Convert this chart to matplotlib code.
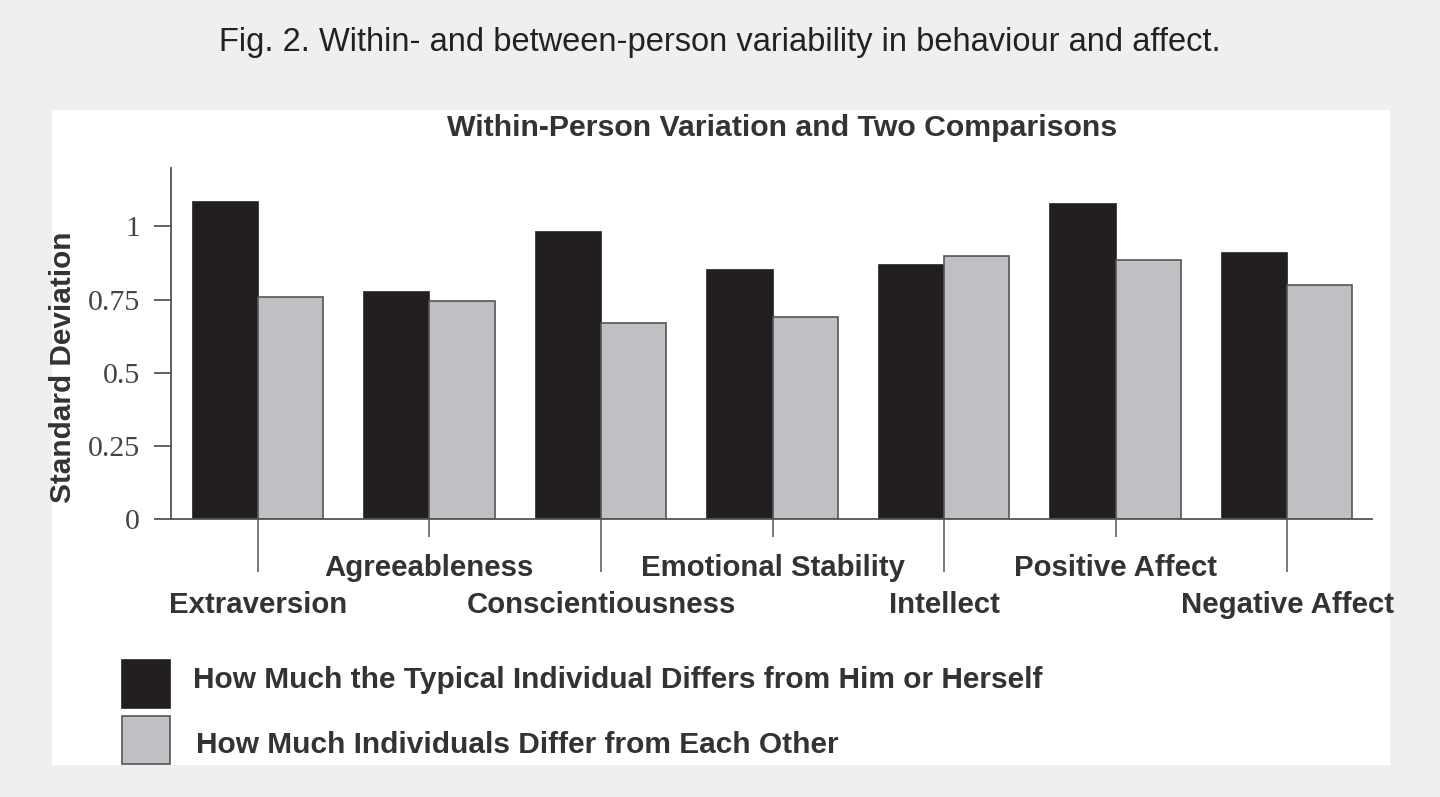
import matplotlib
matplotlib.use("Agg")
import matplotlib.pyplot as plt
from matplotlib import patches

# data
categories = ["Extraversion", "Agreeableness", "Conscientiousness", "Emotional Stability",
              "Intellect", "Positive Affect", "Negative Affect"]
within_sd = [1.085, 0.775, 0.98, 0.85, 0.867, 1.078, 0.908]
between_sd = [0.76, 0.747, 0.669, 0.69, 0.90, 0.887, 0.80]
series_names = ["How Much the Typical Individual Differs from Him or Herself",
                "How Much Individuals Differ from Each Other"]
yticks = [0, 0.25, 0.5, 0.75, 1]
ytick_labels = ["0", "0.25", "0.5", "0.75", "1"]

W, H = 1440, 797
fig = plt.figure(figsize=(W / 100, H / 100), dpi=100, facecolor="#efefef")

# white panel behind the chart
fig.patches.append(patches.Rectangle((52 / W, 1 - 765 / H), (1390 - 52) / W, (765 - 110) / H,
                                     transform=fig.transFigure, facecolor="white",
                                     edgecolor="none", zorder=-10))

fig.text(720 / W, 1 - 42 / H, "Fig. 2. Within- and between-person variability in behaviour and affect.",
         ha="center", va="center", fontsize=23.5, family="Liberation Sans", color="#222222")

ax = fig.add_axes([171 / W, 1 - 519 / H, (1372 - 171) / W, (519 - 168) / H])
ax.set_facecolor("white")

x = list(range(len(categories)))
w = 0.38
ax.bar([i - w / 2 for i in x], within_sd, width=w, color="#231f20", edgecolor="#231f20", lw=1.2)
ax.bar([i + w / 2 for i in x], between_sd, width=w, color="#c0c0c4", edgecolor="#555555", lw=1.2)

ax.set_xlim(-0.506, 6.494)
ax.set_ylim(0, 1.2)

for s in ["top", "right"]:
    ax.spines[s].set_visible(False)
for s in ["left", "bottom"]:
    ax.spines[s].set_color("#555555")
    ax.spines[s].set_linewidth(1.3)

ax.set_yticks(yticks, ytick_labels)
ax.tick_params(axis="y", direction="out", length=12.5, width=1.3, color="#555555",
               labelsize=21.5, labelcolor="#444444", pad=10)
for t in ax.get_yticklabels():
    t.set_family("Liberation Serif")

even = [i for i in x if i % 2 == 0]
odd = [i for i in x if i % 2 == 1]
ax.set_xticks(even, [categories[i] for i in even])
ax.set_xticks(odd, [categories[i] for i in odd], minor=True)
ax.tick_params(axis="x", which="major", direction="out", length=38, width=1.1, color="#555555",
               labelsize=21.2, pad=14)
ax.tick_params(axis="x", which="minor", direction="out", length=13, width=1.1, color="#555555",
               labelsize=21.2, pad=12)
for t in ax.get_xticklabels() + ax.get_xticklabels(minor=True):
    t.set_family("Liberation Sans")
    t.set_fontweight("bold")
    t.set_color("#333333")

ax.set_ylabel("Standard Deviation", fontsize=21.4, fontweight="bold", family="Liberation Sans",
              color="#333333")
ax.yaxis.set_label_coords(-0.078, 0.433)
ax.set_title("Within-Person Variation and Two Comparisons", fontsize=21.8, fontweight="bold",
             family="Liberation Sans", color="#333333", pad=23, x=0.509)

# legend drawn in figure pixels
for k, (name, fc, ec) in enumerate(zip(series_names, ["#231f20", "#c0c0c4"], ["#231f20", "#555555"])):
    top = 660 + k * 56
    fig.patches.append(patches.Rectangle((122 / W, 1 - (top + 48) / H), 48 / W, 48 / H,
                                         transform=fig.transFigure, facecolor=fc,
                                         edgecolor=ec, lw=1.2))
    fig.text((193 + 3 * k) / W, 1 - (top + 20 + k * 9) / H, name, ha="left", va="center",
             fontsize=21.5, fontweight="bold", family="Liberation Sans", color="#333333")

fig.savefig("out.png", dpi=100, facecolor=fig.get_facecolor())
